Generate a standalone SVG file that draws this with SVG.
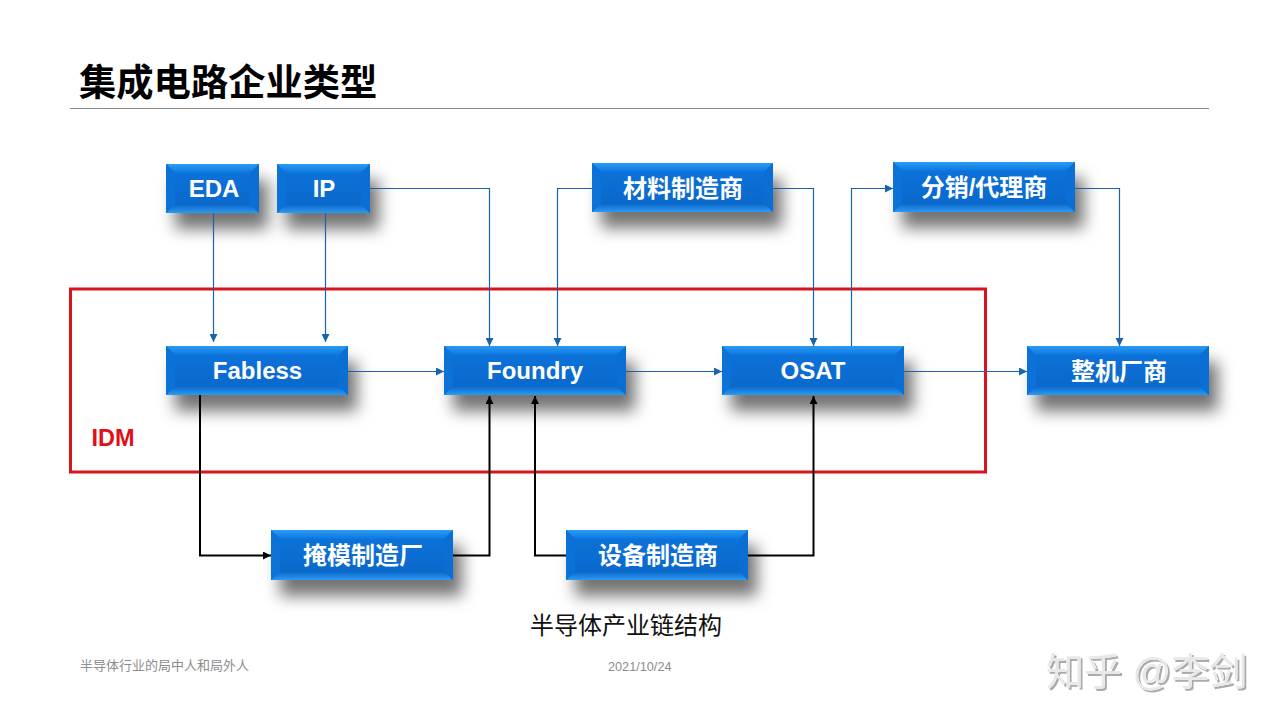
<svg xmlns="http://www.w3.org/2000/svg" width="1280" height="720" viewBox="0 0 1280 720">
<style>
text{font-family:"Liberation Sans","Noto Sans CJK SC",sans-serif}
.n{fill:#fff;font-size:24px;font-weight:700;text-anchor:middle}
.t{fill:url(#gt)}.b{fill:url(#gb)}.l{fill:#0c72d8}.r{fill:#0b6ed4}.c{fill:url(#gc)}
.s{fill:#000;fill-opacity:.55;filter:url(#sh)}
.bl{fill:none;stroke:#1a62ac;stroke-width:1.2;marker-end:url(#ab)}
.bk{fill:none;stroke:#000;stroke-width:2;marker-end:url(#ak)}
.f{fill:#8c8c8c}
</style>
<defs>
<linearGradient id="gt" x1="0" y1="0" x2="0" y2="1"><stop offset="0" stop-color="#2a9cf4"/><stop offset="1" stop-color="#0c76de"/></linearGradient>
<linearGradient id="gb" x1="0" y1="0" x2="0" y2="1"><stop offset="0" stop-color="#0a66c8"/><stop offset="1" stop-color="#2a9af2"/></linearGradient>
<linearGradient id="gc" x1="0" y1="0" x2="0" y2="1"><stop offset="0" stop-color="#0c74dc"/><stop offset="1" stop-color="#0a66c8"/></linearGradient>
<filter id="sh" x="-40%" y="-80%" width="180%" height="260%"><feGaussianBlur stdDeviation="8"/></filter>
<filter id="wm" x="-5%" y="-20%" width="110%" height="140%">
<feOffset in="SourceAlpha" dx="1.6" dy="1.6" result="o"/>
<feFlood flood-color="#ababab"/><feComposite in2="SourceAlpha" operator="out"/><feComposite in2="o" operator="in" result="g"/>
<feFlood flood-color="#e8e8e8"/><feComposite in2="SourceAlpha" operator="in" result="m"/>
<feMerge><feMergeNode in="g"/><feMergeNode in="m"/></feMerge>
</filter>
<marker id="ab" markerUnits="userSpaceOnUse" markerWidth="9" markerHeight="8" refX="8" refY="4" orient="auto"><path d="M0 0L8 4L0 8Z" fill="#1a62ac"/></marker>
<marker id="ak" markerUnits="userSpaceOnUse" markerWidth="9" markerHeight="8" refX="8" refY="4" orient="auto"><path d="M0 0L8 4L0 8Z" fill="#000"/></marker>
</defs>
<rect width="1280" height="720" fill="#fff"/>
<text x="79" y="96" font-size="37.300" font-weight="700" fill="#000">集成电路企业类型</text>
<line x1="70" y1="108.500" x2="1209" y2="108.500" stroke="#8a8a8a" stroke-width="1"/>
<rect x="70.500" y="289" width="915" height="183" fill="none" stroke="#d8141c" stroke-width="3"/>
<text x="91.500" y="446" font-size="23.500" font-weight="700" fill="#e0101a">IDM</text>

<g id="node-eda"><rect class="s" x="175" y="180" width="93" height="49"/><rect class="c" x="166" y="164" width="93" height="49"/><path class="t" d="M166 164H259L250 173H175Z"/><path class="b" d="M166 213H259L250 204H175Z"/><path class="l" d="M166 164V213L175 204V173Z"/><path class="r" d="M259 164V213L250 204V173Z"/><text class="n" x="214" y="197">EDA</text></g>
<g id="node-ip"><rect class="s" x="286" y="180" width="93" height="49"/><rect class="c" x="277" y="164" width="93" height="49"/><path class="t" d="M277 164H370L361 173H286Z"/><path class="b" d="M277 213H370L361 204H286Z"/><path class="l" d="M277 164V213L286 204V173Z"/><path class="r" d="M370 164V213L361 204V173Z"/><text class="n" x="324" y="197">IP</text></g>
<g id="node-material"><rect class="s" x="601" y="179" width="181" height="49"/><rect class="c" x="592" y="163" width="181" height="49"/><path class="t" d="M592 163H773L764 172H601Z"/><path class="b" d="M592 212H773L764 203H601Z"/><path class="l" d="M592 163V212L601 203V172Z"/><path class="r" d="M773 163V212L764 203V172Z"/><text class="n" x="683" y="197">材料制造商</text></g>
<g id="node-distributor"><rect class="s" x="902" y="178" width="182" height="50"/><rect class="c" x="893" y="162" width="182" height="50"/><path class="t" d="M893 162H1075L1066 171H902Z"/><path class="b" d="M893 212H1075L1066 203H902Z"/><path class="l" d="M893 162V212L902 203V171Z"/><path class="r" d="M1075 162V212L1066 203V171Z"/><text class="n" x="984" y="196">分销/代理商</text></g>
<g id="node-fabless"><rect class="s" x="175" y="362" width="182" height="49"/><rect class="c" x="166" y="346" width="182" height="49"/><path class="t" d="M166 346H348L339 355H175Z"/><path class="b" d="M166 395H348L339 386H175Z"/><path class="l" d="M166 346V395L175 386V355Z"/><path class="r" d="M348 346V395L339 386V355Z"/><text class="n" x="257.500" y="379">Fabless</text></g>
<g id="node-foundry"><rect class="s" x="453" y="362" width="182" height="49"/><rect class="c" x="444" y="346" width="182" height="49"/><path class="t" d="M444 346H626L617 355H453Z"/><path class="b" d="M444 395H626L617 386H453Z"/><path class="l" d="M444 346V395L453 386V355Z"/><path class="r" d="M626 346V395L617 386V355Z"/><text class="n" x="535" y="379">Foundry</text></g>
<g id="node-osat"><rect class="s" x="731" y="362" width="182" height="49"/><rect class="c" x="722" y="346" width="182" height="49"/><path class="t" d="M722 346H904L895 355H731Z"/><path class="b" d="M722 395H904L895 386H731Z"/><path class="l" d="M722 346V395L731 386V355Z"/><path class="r" d="M904 346V395L895 386V355Z"/><text class="n" x="813" y="379">OSAT</text></g>
<g id="node-oem"><rect class="s" x="1036" y="362" width="182" height="49"/><rect class="c" x="1027" y="346" width="182" height="49"/><path class="t" d="M1027 346H1209L1200 355H1036Z"/><path class="b" d="M1027 395H1209L1200 386H1036Z"/><path class="l" d="M1027 346V395L1036 386V355Z"/><path class="r" d="M1209 346V395L1200 386V355Z"/><text class="n" x="1119" y="380">整机厂商</text></g>
<g id="node-mask"><rect class="s" x="280" y="546" width="182" height="50"/><rect class="c" x="271" y="530" width="182" height="50"/><path class="t" d="M271 530H453L444 539H280Z"/><path class="b" d="M271 580H453L444 571H280Z"/><path class="l" d="M271 530V580L280 571V539Z"/><path class="r" d="M453 530V580L444 571V539Z"/><text class="n" x="357" y="564" dx="6">掩模制造厂</text></g>
<g id="node-equipment"><rect class="s" x="575" y="546" width="182" height="50"/><rect class="c" x="566" y="530" width="182" height="50"/><path class="t" d="M566 530H748L739 539H575Z"/><path class="b" d="M566 580H748L739 571H575Z"/><path class="l" d="M566 530V580L575 571V539Z"/><path class="r" d="M748 530V580L739 571V539Z"/><text class="n" x="658" y="564">设备制造商</text></g>

<g id="connectors">
<path class="bl" d="M213.500 213V342"/>
<path class="bl" d="M325.500 213V342"/>
<path class="bl" d="M370 188.500H489.500V346"/>
<path class="bl" d="M592 188.500H557.500V346"/>
<path class="bl" d="M773 188.500H813.500V346"/>
<path class="bl" d="M851.500 346V188.500H893"/>
<path class="bl" d="M1075 188.500H1119.500V346"/>
<path class="bl" d="M348 371.500H444"/>
<path class="bl" d="M626 371.500H722"/>
<path class="bl" d="M904 371.500H1027"/>
<path class="bk" d="M200 395V555.500H271"/>
<path class="bk" d="M453 555.500H489.500V396"/>
<path class="bk" d="M566 555.500H535V396"/>
<path class="bk" d="M748 555.500H813.500V396"/>
</g>
<text x="626" y="634" font-size="24" text-anchor="middle" fill="#111">半导体产业链结构</text>
<text class="f" x="80" y="670" font-size="13">半导体行业的局中人和局外人</text>
<text class="f" x="608" y="671" font-size="12.700">2021/10/24</text>
<text x="1046" y="685" font-size="38" fill="#ccc" filter="url(#wm)">知乎 @李剑</text>
</svg>
